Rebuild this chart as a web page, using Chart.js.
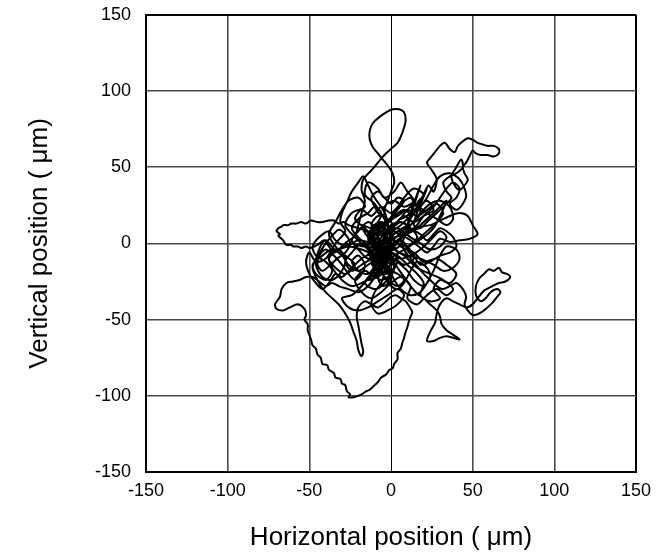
<!DOCTYPE html>
<html>
<head>
<meta charset="utf-8">
<script src="https://cdn.jsdelivr.net/npm/chart.js@4/dist/chart.umd.min.js"></script>
<style>
  body { margin: 0; background: #fff; }
  #chart_root { display: block; }
</style>
</head>
<body>
<canvas id="chart_root" width="662" height="557"></canvas>
<script>
// Trajectory (um). Pieces follow each other as one track.
const leftLobeX = [0, -4, -8, -12, -15, -20, -26, -29, -32, -35, -38, -42, -45, -49, -52, -55, -58, -61, -63, -66, -67, -69, -70, -68, -69, -67, -66, -64, -61, -60, -57, -55, -52, -50, -47, -45, -41, -38, -35, -31, -27];
const leftLobeY = [0, 3, -2, 4, 8, 10, 12, 14, 13, 15, 15, 14, 14, 15, 13, 14, 13, 13, 12, 12, 11, 10, 8, 6, 5, 3, 2, -1, -1, -2, -2, -3, -2, -3, -2, -1, 2, -2, -6, -3, 1];

const topLoopX = [-22, -20, -18, -16, -18, -17, -12, -8, -4, 0, 4, 6, 8, 9, 8, 5, 1, -3, -7, -11, -13, -13, -11, -8, -5, -2, 1, 2, 0, -2, -4, -3, -5, -4];
const topLoopY = [5, 12, 20, 28, 35, 42, 48, 53, 58, 62, 66, 70, 76, 81, 86, 88, 88, 86, 83, 79, 74, 68, 63, 59, 55, 51, 46, 40, 34, 28, 22, 15, 8, 2];

const coreAX = [-8, -6, -2, 2, -3, -9, -12, -7, -2, 4, 8, 5, 0, -5, -10, -14, -10, -4, 2, 8, 12, 10, 4, -2, -6, -4, -8, -5, 0, -3, -7, -3, 3, 9, 14, 18, 15, 10, 6];
const coreAY = [-5, -12, -8, -15, -20, -16, -8, 0, 6, 10, 5, -2, -5, -10, -4, 3, 10, 14, 18, 22, 18, 12, 8, 2, -4, -14, -22, -28, -24, -17, -10, -2, 4, 10, 14, 20, 26, 22, 16];

const upperRightX = [12, 18, 20, 23, 26, 28, 25, 22, 24, 27, 30, 33, 36, 39, 41, 44, 47, 50, 53, 56, 59, 63, 66, 66, 63, 59, 55, 52, 50, 48, 46, 44, 45, 47, 45, 42, 39, 37, 40, 43, 44, 40, 36, 32, 34, 37, 34, 30, 26, 22, 18];
const upperRightY = [20, 26, 32, 38, 34, 42, 48, 53, 56, 60, 64, 66, 62, 60, 64, 67, 69, 68, 66, 65, 64, 64, 62, 59, 57, 58, 58, 59, 61, 57, 53, 50, 46, 42, 38, 35, 38, 44, 50, 55, 50, 46, 44, 40, 34, 30, 26, 22, 18, 14, 10];

const spokesX = [10, 18, 12, 22, 14];
const spokesY = [10, 38, 16, 36, 12];

const rightX = [24, 30, 36, 42, 47, 50, 53, 48, 42, 36, 30, 26, 22, 18, 12, 6];
const rightY = [12, 15, 18, 20, 18, 12, 6, 3, 2, 1, 3, -2, -6, -3, 2, 5];

const lowerRightX = [8, 12, 16, 20, 24, 28, 32, 36, 40, 44, 46, 45, 47, 50, 54, 58, 62, 65, 67, 65, 61, 58, 55, 52, 52, 54, 57, 60, 63, 66, 68, 71, 73, 70, 66, 62, 57, 53, 50, 46, 42, 38, 34];
const lowerRightY = [-4, -10, -15, -20, -24, -28, -30, -28, -26, -30, -35, -40, -44, -47, -46, -43, -39, -35, -32, -30, -32, -36, -38, -34, -28, -23, -20, -17, -18, -16, -19, -20, -22, -25, -26, -28, -31, -36, -40, -42, -40, -38, -36];

const triangleX = [30, 28, 27, 24, 22, 26, 30, 34, 38, 42, 38, 34, 31, 30, 28, 24, 20, 16, 12, 8, 4, 0];
const triangleY = [-40, -46, -52, -58, -64, -64, -62, -61, -62, -63, -60, -57, -53, -48, -44, -40, -36, -33, -28, -22, -16, -10];

const bottomLoopX = [-6, -10, -14, -20, -26, -32, -36, -40, -44, -48, -52, -56, -60, -64, -67, -68, -71, -70, -66, -62, -57,
  -53, -52, -53, -51, -51, -50, -49, -48, -46, -45, -43, -42, -39, -38, -35, -34, -31, -30, -28, -27, -25, -26, -23, -20, -18, -15, -13, -10, -8, -6,
  -3, -1, 1, 2, 4, 4, 6, 7, 8, 9, 10, 11, 12, 13, 11, 9, 6, 3, 0, -3, -8, -12, -16];
const bottomLoopY = [-14, -22, -28, -32, -30, -28, -26, -28, -25, -22, -22, -24, -25, -26, -30, -35, -40, -43, -44, -42, -40,
  -43, -47, -50, -53, -57, -60, -63, -67, -69, -73, -75, -79, -80, -83, -85, -88, -89, -92, -93, -97, -99, -101, -101, -100, -99, -97, -96, -93, -91, -88,
  -86, -83, -82, -79, -76, -72, -69, -65, -62, -58, -55, -51, -48, -45, -41, -38, -36, -34, -35, -38, -42, -40, -38];

const tailX = [-20, -21, -20, -19, -18, -17, -18, -20, -21, -23, -25, -28, -32, -36, -40, -43, -46, -48, -46, -43, -40];
const tailY = [-42, -48, -54, -60, -66, -71, -74, -70, -64, -58, -52, -46, -40, -36, -32, -28, -22, -16, -10, -5, 0];

const coreBX = [-36, -32, -28, -25, -28, -33, -37, -42, -45, -44, -40, -35, -30, -26, -22, -18, -16, -20, -24, -20, -14, -10, -12, -16, -20, -24, -20, -14, -10, -6, -8, -12, -8, -4, 0, 4, 8, 4, 0, -4, -8, -12, -10, -6];
const coreBY = [5, 9, 6, 0, -6, -10, -14, -18, -14, -8, -4, -8, -14, -20, -24, -20, -14, -8, -12, -18, -20, -14, -6, 0, 4, 10, 16, 20, 24, 20, 14, 10, 6, 10, 16, 22, 28, 30, 26, 30, 34, 30, 24, 18];

const upperLeftX = [-4, -10, -14, -17, -20, -24, -27, -30, -31, -28, -34];
const upperLeftY = [20, 30, 38, 44, 40, 34, 27, 20, 14, 8, 0];

const midLeftX = [-40, -46, -50, -52, -50, -46, -42, -38, -34, -30, -24, -18, -12, -6];
const midLeftY = [-10, -12, -6, -12, -20, -26, -30, -26, -20, -22, -16, -10, -6, 4];

const coreCX = [0, 6, 12, 18, 22, 26, 30, 34, 38, 40, 36, 30, 24, 18, 14, 10, 6, 2, -2,
  4, 10, 14, 20, 24, 22, 16, 12, 8, 4, 0, -4, -6, -8,
  -4, 0, -6, -10, -6, -2, -8, -12, -8, -2, 4, 0, -4, -10, -14, -8, -2, 2, -2];
const coreCY = [12, 14, 10, 6, 2, 6, 10, 8, 4, -2, -6, -8, -12, -14, -8, -2, 2, -2, -6,
  -12, -18, -24, -28, -22, -16, -12, -18, -26, -30, -28, -22, -16, -8,
  -4, 2, 6, 0, -6, -12, -18, -12, -4, 0, -6, -14, -8, -2, 6, 12, 8, 0, -4];

const coreDX = [-2, -8, -14, -10, -16, -22, -18, -12, -6, 0, 6, 12, 16, 22, 26, 20, 14, 8, 2, -4, -10, -6, 0, -4, -10, -16, -12, -6, 2, 8,
  14, 10, 16, 22, 28, 32, 28, 22, 16, 10, 4, -2, -8, -14, -20, -24, -20, -14, -8, -2, 4, 10, 16, 20, 24, 30, 34, 30, 26, 20,
  14, 8, 2, -4, -10, -14, -8, -2, 4, 8, 4, -2, -6, -4, -8, -12, -6, 0, 6, 12, 18, 24, 30, 34, 30, 24, 18, 12, 6, 0,
  -6, -12, -18, -24, -28, -24, -18, -12, -6, 0];
const coreDY = [-4, -12, -6, 2, 10, 16, 22, 18, 24, 20, 26, 30, 24, 28, 22, 18, 14, 18, 12, 6, -2, -10, -18, -26, -30, -26, -20, -14, -10, -14,
  -10, -4, 2, 8, 14, 20, 26, 22, 18, 22, 18, 14, 10, 14, 8, 2, -4, -10, -6, -2, 2, 6, 10, 14, 18, 24, 28, 18, 10, 4,
  0, -4, -8, -12, -18, -24, -22, -18, -20, -24, -28, -24, -18, -10, -2, 6, 10, 6, 8, 4, 0, -4, -2, 4, 8, 2, -4, -8, -10, -6,
  0, -4, 0, -6, -12, -18, -14, -10, -4, 0];

const coreEX = [-4, -8, -12, -6, -2, -6, -10, -4, 0, -4, -10, -14, -10, -6, -2, 2, -2, -8, -4, 2, -2, -8, -12, -8, -2, 4, 0, -6, -10, -8, -4, 2, 6, 2, -4, -10, -14, -10, -4, 0, -2];
const coreEY = [4, -6, 2, 8, -2, -10, -16, -20, -12, -4, 4, -2, -10, -18, -24, -16, -8, 0, 6, 10, 16, 18, 12, 4, -4, -10, -20, -24, -20, -12, -6, -2, 4, 8, 12, 8, 0, -8, -14, -8, 0];

const midRightX = [2, 10, 18, 26, 32, 38, 42, 40, 34, 30, 26, 22, 18, 12, 6, 2, -2];
const midRightY = [-4, -8, -10, -14, -18, -16, -10, -4, -2, -8, -18, -26, -32, -34, -30, -24, -16];

const leftLoopsX = [-10, -18, -26, -34, -40, -44, -46, -42, -36, -30, -28, -32, -38, -36, -30, -24, -18, -12, -6, -2];
const leftLoopsY = [-8, -4, -2, -4, 2, -4, -14, -22, -24, -18, -10, -4, -8, -16, -24, -28, -26, -22, -16, -8];

const upperCoreX = [0, -4, -10, -16, -14, -8, -4, 2, 6, 10, 14, 8, 2, -4, -2, 0];
const upperCoreY = [4, 16, 26, 32, 40, 36, 30, 34, 40, 34, 28, 24, 28, 24, 14, 4];

const upperRight2X = [14, 20, 26, 30, 34, 38, 42, 40, 36, 40, 44, 46, 42, 36, 30, 26, 22, 18, 12, 6, 0];
const upperRight2Y = [10, 18, 24, 30, 36, 40, 36, 30, 26, 22, 26, 32, 42, 46, 44, 38, 30, 24, 18, 12, 6];

const lowerRight2X = [6, 14, 20, 28, 34, 40, 36, 30, 26, 30, 24, 18, 20, 16, 10, 4];
const lowerRight2Y = [-2, -6, -12, -10, -14, -20, -26, -24, -30, -36, -38, -34, -26, -20, -14, -8];

const left2X = [-4, -12, -20, -28, -34, -38, -44, -48, -46, -40, -36, -40, -46, -48, -42, -36, -30, -26, -20, -14, -8];
const left2Y = [-4, 0, 2, -2, 2, 8, 4, -2, -8, -12, -18, -24, -20, -14, -8, -4, -8, -14, -18, -14, -10];

const lowerCoreX = [-12, -18, -24, -30, -26, -20, -14, -8, -2, 4, 8, 4, -2, -8, -12, -10, -6, -4, -6];
const lowerCoreY = [-20, -28, -34, -36, -42, -44, -42, -38, -34, -30, -34, -40, -44, -46, -40, -32, -26, -18, -10];

const wideAX = [-14, -22, -28, -24, -16, -20, -26, -30, -34, -38, -34, -28, -22, -28, -34, -38, -32, -24, -16, -10, -4, 2, 8, 14, 20, 16, 22, 28, 34, 38, 36, 30, 24, 18, 12, 6, 0];
const wideAY = [-4, 4, 12, 20, 24, 30, 28, 22, 14, 6, -2, -8, -14, -20, -16, -10, -4, 0, -2, 6, 12, 20, 30, 36, 32, 26, 20, 16, 12, 16, 24, 28, 26, 20, 12, 4, -2];

const wideBX = [8, 16, 24, 32, 38, 34, 28, 22, 16, 10, 12, 6, 0, -6, -12, -18, -22, -16, -10, -6, -2, 4, 10, 16, 12, 6, 0, -6, -12, -18, -14, -8, -2];
const wideBY = [-8, -16, -20, -24, -30, -34, -30, -34, -40, -36, -28, -22, -26, -32, -36, -32, -24, -18, -22, -14, -6, 0, -2, 4, 10, 14, 10, 14, 10, 12, 4, 0, 2];

const tickValues = [-150, -100, -50, 0, 50, 100, 150];
const xTitle = 'Horizontal position ( \u03bcm)';
const yTitle = 'Vertical position ( \u03bcm)';

const trackX = [].concat(leftLobeX, topLoopX, coreAX, upperRightX, spokesX, rightX, lowerRightX, triangleX, bottomLoopX, tailX,
  coreBX, upperLeftX, midLeftX, coreCX, coreDX, coreEX, midRightX, leftLoopsX, upperCoreX,
  upperRight2X, lowerRight2X, left2X, lowerCoreX, wideAX, wideBX);
const trackY = [].concat(leftLobeY, topLoopY, coreAY, upperRightY, spokesY, rightY, lowerRightY, triangleY, bottomLoopY, tailY,
  coreBY, upperLeftY, midLeftY, coreCY, coreDY, coreEY, midRightY, leftLoopsY, upperCoreY,
  upperRight2Y, lowerRight2Y, left2Y, lowerCoreY, wideAY, wideBY);

const points = trackX.map((x, i) => ({ x: x, y: trackY[i] }));

// grid: frame lines black, rest dark gray
function gridColor(c) {
  const v = c.tick ? c.tick.value : null;
  if (v === -150 || v === 150) return '#000';
  return '#4a4a4a';
}
function gridWidth(c) {
  const v = c.tick ? c.tick.value : null;
  if (v === -150 || v === 150) return 2;
  return 1.6;
}

const tickFont = { family: 'Liberation Sans, Arial, sans-serif', size: 18 };
const titleFont = { family: 'Liberation Sans, Arial, sans-serif', size: 26 };

const ctx = document.getElementById('chart_root');

new Chart(ctx, {
  type: 'scatter',
  data: {
    datasets: [
      {
        data: points,
        showLine: true,
        borderColor: '#000',
        borderWidth: 2,
        pointRadius: 0,
        tension: 0.3,
        fill: false
      }
    ]
  },
  options: {
    responsive: false,
    animation: false,
    plugins: { legend: { display: false }, tooltip: { enabled: false } },
    layout: { padding: { top: 4, right: 26, left: 0, bottom: 0 } },
    scales: {
      x: {
        type: 'linear',
        min: -150,
        max: 150,
        afterBuildTicks: (scale) => { scale.ticks = tickValues.map((v) => ({ value: v })); },
        afterFit: (scale) => { scale.height = 85; },
        ticks: { color: '#000', font: tickFont, padding: 8, maxRotation: 0 },
        grid: {
          drawTicks: false,
          // the x = 0 line is a thin black line
          color: (c) => (c.tick && c.tick.value === 0 ? '#000' : gridColor(c)),
          lineWidth: (c) => (c.tick && c.tick.value === 0 ? 1 : gridWidth(c))
        },
        border: { color: '#000', width: 2 },
        title: { display: true, text: xTitle, color: '#000', font: titleFont, padding: { top: 0, bottom: 4 } }
      },
      y: {
        type: 'linear',
        min: -150,
        max: 150,
        afterBuildTicks: (scale) => { scale.ticks = tickValues.map((v) => ({ value: v })); },
        afterFit: (scale) => { scale.width = 146; },
        // invisible tick marks push the labels left without adding top padding
        ticks: { color: '#000', font: tickFont, padding: 4 },
        grid: { drawTicks: true, tickLength: 11, tickColor: 'rgba(0,0,0,0)', color: gridColor, lineWidth: gridWidth },
        border: { color: '#000', width: 2 },
        title: { display: true, text: yTitle, color: '#000', font: titleFont, padding: { top: 24, bottom: 0 } }
      }
    }
  }
});
</script>
</body>
</html>
